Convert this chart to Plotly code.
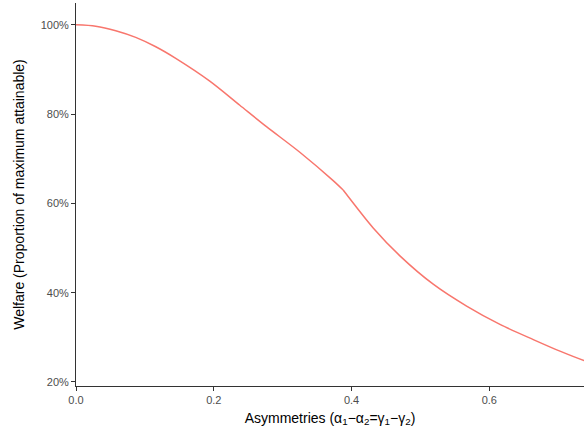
import plotly.graph_objects as go

asym = [0.0, 0.0286, 0.0577, 0.0867, 0.1158, 0.1448, 0.1942, 0.2378, 0.2765,
        0.3249, 0.3733, 0.3878, 0.4314, 0.4702, 0.5185, 0.567, 0.6154, 0.6638,
        0.7025, 0.7374, 0.75]
welfare = [1.0, 0.997, 0.987, 0.972, 0.951, 0.925, 0.874, 0.820, 0.772,
           0.7146, 0.651, 0.630, 0.545, 0.4825, 0.419, 0.370, 0.329, 0.295,
           0.269, 0.248, 0.242]
kink_x = 0.3878

x_ticks = [0.0, 0.2, 0.4, 0.6]
x_tick_labels = ["0.0", "0.2", "0.4", "0.6"]
y_ticks = [0.2, 0.4, 0.6, 0.8, 1.0]
y_tick_labels = ["20%", "40%", "60%", "80%", "100%"]

k = asym.index(kink_x)
segments = [(asym[:k + 1], welfare[:k + 1]), (asym[k:], welfare[k:])]

fig = go.Figure()
for xs, ys in segments:
    fig.add_trace(go.Scatter(x=xs, y=ys, mode="lines",
                             line=dict(color="#F8766D", width=1.5, shape="spline", smoothing=0.8),
                             showlegend=False, hoverinfo="skip"))

axis_common = dict(showgrid=False, zeroline=False, showline=True, linecolor="#333333",
                   linewidth=1, ticks="outside", ticklen=4, tickwidth=1, tickcolor="#333333",
                   tickfont=dict(family="Liberation Sans, Arial, sans-serif", size=11, color="rgb(77,77,77)"),
                   mirror=False, automargin=False)

fig.update_layout(
    template="none",
    width=584, height=435,
    margin=dict(l=76, r=0, t=3, b=49),
    paper_bgcolor="white", plot_bgcolor="white",
    font=dict(family="Liberation Sans, Arial, sans-serif", color="rgb(77,77,77)"),
    xaxis=dict(range=[0, 0.7374], tickvals=x_ticks, ticktext=x_tick_labels,
               title=dict(text="Asymmetries (α<sub>1</sub>−α<sub>2</sub>=γ<sub>1</sub>−γ<sub>2</sub>)",
                          font=dict(size=14, color="black"), standoff=7),
               **axis_common),
    yaxis=dict(range=[0.191, 1.049], tickvals=y_ticks, ticktext=y_tick_labels,
               title=dict(text="Welfare (Proportion of maximum attainable)",
                          font=dict(size=14, color="black"), standoff=12),
               **axis_common),
)

fig.write_html("out.html", config={"displayModeBar": False},
               post_script="document.body.style.margin='0';")
